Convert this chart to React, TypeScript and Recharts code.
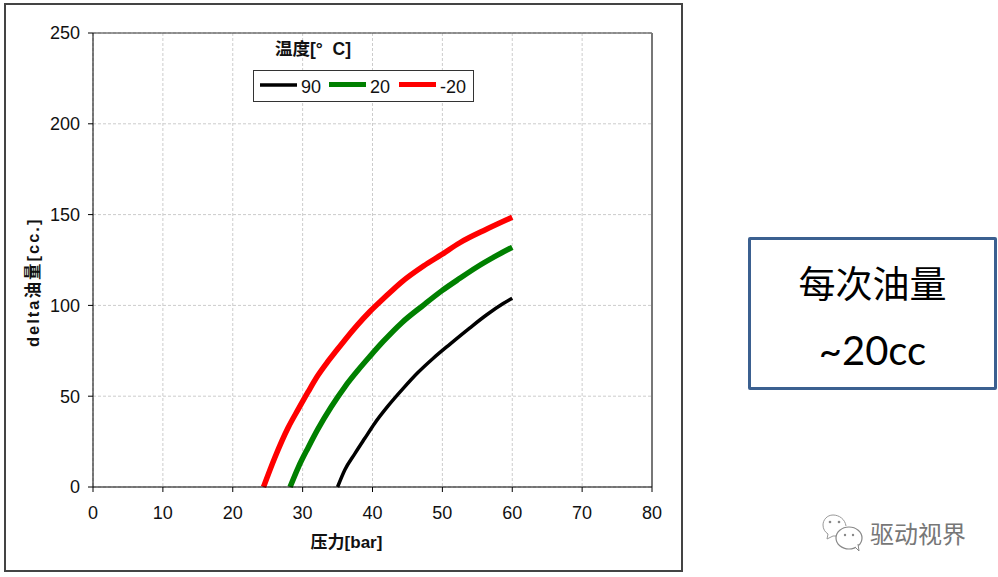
import React from "react";
import { LineChart, Line, XAxis, YAxis, CartesianGrid, Legend, ReferenceLine } from "recharts";

const xTicks = [0, 10, 20, 30, 40, 50, 60, 70, 80];
const yTicks = [0, 50, 100, 150, 200, 250];

const pressureBlack = [35, 36.05, 37.5, 38.9, 40.3, 42.2, 44.4, 46.5, 48.7, 51.1, 53.9, 56.3, 58.7, 60];
const valuesBlack = [0, 9.5, 18.5, 26.8, 35, 44.5, 54.3, 63, 70.9, 78.7, 87.5, 94.7, 101, 104];

const pressureGreen = [28.2, 29.4, 30.8, 32.2, 34.1, 36.05, 37.95, 39.6, 41.5, 44.2, 47.3, 49.9, 52.5, 54.9, 57.8, 60];
const valuesGreen = [0, 11, 21.8, 32, 44.2, 55.2, 64.4, 71.8, 80, 90.5, 100.2, 108, 114.9, 121, 127.5, 132];

const pressureRed = [24.4, 26, 27.9, 29.4, 30.8, 32.2, 33.4, 34.9, 36.05, 39.6, 41.5, 44.2, 47.3, 49.9, 52.5, 56.3, 60];
const valuesRed = [0, 16, 32.5, 43, 52.5, 61.5, 68, 75.4, 81, 96.5, 103.5, 113, 121.7, 128, 134.5, 141.9, 148.5];

const zip = (xs: number[], ys: number[]) => xs.map((x, i) => ({ x, y: ys[i] }));

const seriesList = [
  { name: "90", data: zip(pressureBlack, valuesBlack), color: "#000000", width: 3.5 },
  { name: "20", data: zip(pressureGreen, valuesGreen), color: "#008000", width: 5.5 },
  { name: "-20", data: zip(pressureRed, valuesRed), color: "#ff0000", width: 5.5 },
];

const tickFont = { fontFamily: "'Liberation Sans', Arial, sans-serif", fontSize: 18, fill: "#111" };
const labelFont = "'Liberation Sans', 'Noto Sans CJK SC', sans-serif";

function LegendBox({ payload }: any) {
  const slots = [
    { lineX: 7, textX: 48 },
    { lineX: 76, textX: 117 },
    { lineX: 146, textX: 187 },
  ];
  return (
    <svg width={221} height={32} style={{ display: "block", overflow: "visible" }}>
      <rect x={0.5} y={0.5} width={220} height={31} fill="#fff" stroke="#333" strokeWidth={1} />
      {(payload || []).map((p: any, i: number) => (
        <g key={p.value}>
          <line x1={slots[i].lineX} x2={slots[i].lineX + 37} y1={i === 0 ? 15 : 14.5} y2={i === 0 ? 15 : 14.5} stroke={p.color} strokeWidth={i === 0 ? 3.5 : 5} />
          <text x={slots[i].textX} y={22.5} fontFamily={labelFont} fontSize={18} fill="#111">{p.value}</text>
        </g>
      ))}
    </svg>
  );
}

const abs = (o: React.CSSProperties): React.CSSProperties => ({ position: "absolute", ...o });

export default function App() {
  return (
    <div style={abs({ left: 0, top: 0, width: 998, height: 577, background: "#fff", overflow: "hidden" })}>
      <div style={abs({ left: 4, top: 3, width: 675, height: 565, border: "2px solid #444", boxSizing: "content-box" })} />
      <div style={abs({ left: 0, top: 0 })}>
        <LineChart width={998} height={577} margin={{ top: 33, right: 346, bottom: 60, left: 33 }}>
          <CartesianGrid stroke="#cccccc" strokeDasharray="3 2" strokeWidth={1} />
          <XAxis
            type="number"
            dataKey="x"
            domain={[0, 80]}
            ticks={xTicks}
            allowDuplicatedCategory={false}
            height={30}
            tick={tickFont}
            tickSize={5}
            tickMargin={14}
            stroke="#000"
            label={{ value: "压力[bar]", position: "insideBottom", offset: -31, dx: -26, style: { fontFamily: labelFont, fontSize: 17, fontWeight: 700, fill: "#111" } }}
          />
          <YAxis
            type="number"
            domain={[0, 250]}
            ticks={yTicks}
            width={60}
            tick={tickFont}
            tickSize={5}
            tickMargin={8}
            stroke="#000"
            label={{ value: "delta油量[cc.]", angle: -90, position: "insideLeft", offset: 0, dx: 0, dy: 87, style: { fontFamily: labelFont, fontSize: 16.5, fontWeight: 700, letterSpacing: 2, fill: "#111" } }}
          />
          <ReferenceLine y={250} stroke="#333" strokeWidth={1} />
          <ReferenceLine x={80} stroke="#777" strokeWidth={2} />
          <Legend layout="horizontal" verticalAlign="middle" align="center" itemSorter={null as any} wrapperStyle={{ left: 253, top: 70, width: 221, height: 32 }} content={<LegendBox />} />
          {seriesList.map((s) => (
            <Line key={s.name} name={s.name} data={s.data} dataKey="y" type="monotone" stroke={s.color} strokeWidth={s.width} dot={false} isAnimationActive={false} />
          ))}
        </LineChart>
      </div>
      <div style={abs({ left: 275, top: 39, fontFamily: labelFont, fontSize: 17.5, fontWeight: 700, lineHeight: "20px", whiteSpace: "pre", color: "#111" })}>{"温度[°  C]"}</div>
      <div style={abs({ left: 748, top: 237, width: 243, height: 147, border: "3px solid #3b6090", borderRadius: 2 })} />
      <div style={abs({ left: 748, width: 249, top: 257, textAlign: "center", fontFamily: "'Noto Sans CJK SC', sans-serif", fontSize: 37, lineHeight: "50px", color: "#000" })}>每次油量</div>
      <div style={abs({ left: 748, width: 249, top: 325, textAlign: "center", fontFamily: "Lato, 'Open Sans', sans-serif", fontSize: 40, lineHeight: "50px", color: "#000" })}>~20cc</div>
      <svg style={abs({ left: 822, top: 512 })} width={44} height={40} viewBox="0 0 44 40">
        <path d="M24 14 C23 7 17 3 11 3 C5 3 1 8 1 13 C1 17 3 20 6 22 L5 27 L11 24 C12 24 13 24 14 24" fill="#fff" stroke="#999" strokeWidth={1} />
        <circle cx={8} cy={10} r={1.3} fill="#888" />
        <circle cx={17} cy={10} r={1.3} fill="#888" />
        <ellipse cx={27} cy={26} rx={13} ry={11} fill="#fff" stroke="#888" strokeWidth={1.2} />
        <path d="M33 35 L37 39 L36 32" fill="#fff" stroke="#888" strokeWidth={1} />
        <circle cx={23} cy={23} r={1.2} fill="#888" />
        <circle cx={31} cy={23} r={1.2} fill="#888" />
      </svg>
      <div style={abs({ left: 870, top: 516, fontFamily: "'Noto Sans CJK SC', sans-serif", fontSize: 24, lineHeight: "34px", color: "#777" })}>驱动视界</div>
    </div>
  );
}
